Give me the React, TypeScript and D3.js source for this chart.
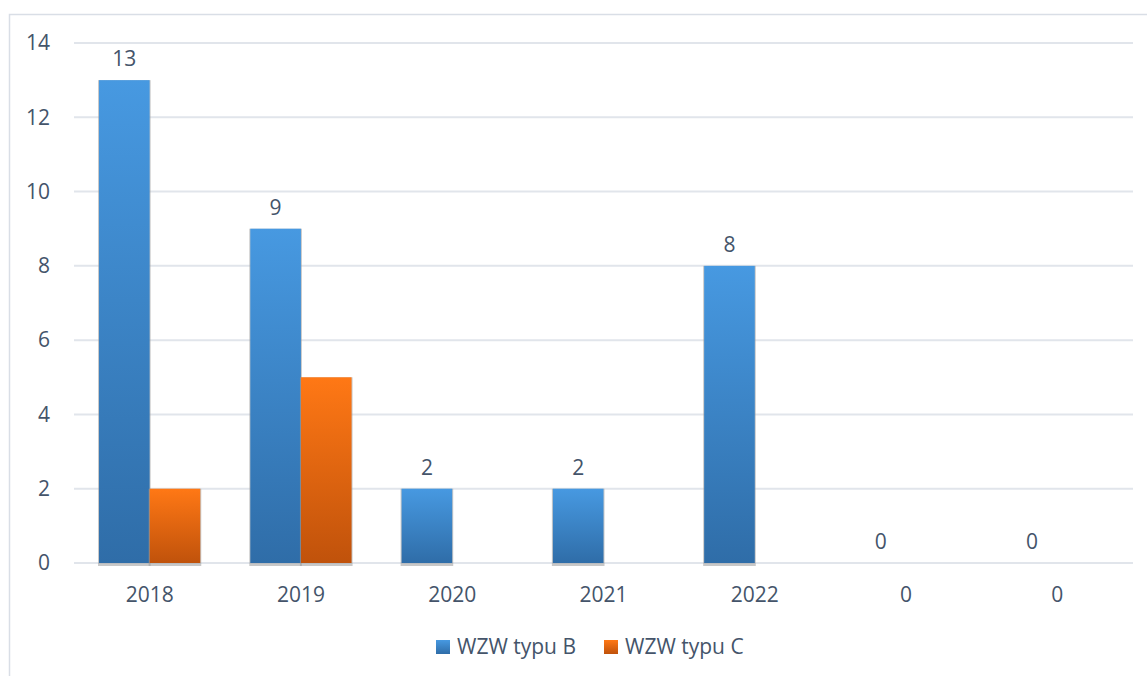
import React from "react";
import * as d3 from "d3";

const categories = ["2018", "2019", "2020", "2021", "2022", "0", "0"];
const seriesB = [13, 9, 2, 2, 8, 0, 0];
const seriesC: (number | null)[] = [2, 5, 0, 0, 0, 0, 0];
const seriesNames = ["WZW typu B", "WZW typu C"];
const yTicks = [0, 2, 4, 6, 8, 10, 12, 14];

const W = 1147;
const H = 676;
const M = { left: 74, right: 1133, top: 43, bottom: 563 };
const FONT = "'Open Sans', sans-serif";
const TEXT = "#44546A";
const FS = 21;

export default function App() {
  const x0 = d3
    .scaleBand<number>()
    .domain(categories.map((_, i) => i))
    .range([M.left, M.right])
    .paddingInner(0)
    .paddingOuter(0);
  const groupPad = 25 / 151.2;
  const x1 = d3
    .scaleBand<number>()
    .domain([0, 1])
    .range([x0.bandwidth() * groupPad, x0.bandwidth() * (1 - groupPad)]);
  const y = d3.scaleLinear().domain([0, 14]).range([M.bottom, M.top]);

  const bars: { s: number; i: number; v: number }[] = [];
  seriesB.forEach((v, i) => bars.push({ s: 0, i, v }));
  seriesC.forEach((v, i) => {
    if (v != null && v > 0) bars.push({ s: 1, i, v });
  });

  return (
    <svg width={W} height={H} style={{ display: "block", position: "absolute", left: 0, top: 0 }}>
      <defs>
        <linearGradient id="gB" x1="0" y1="0" x2="0" y2="1">
          <stop offset="0" stopColor="#4799E1" />
          <stop offset="1" stopColor="#2F6DA8" />
        </linearGradient>
        <linearGradient id="gC" x1="0" y1="0" x2="0" y2="1">
          <stop offset="0" stopColor="#FF7815" />
          <stop offset="1" stopColor="#C0520B" />
        </linearGradient>
      </defs>
      <rect x={0} y={0} width={W} height={H} fill="#fff" />
      <rect x={9.5} y={14.5} width={W + 10} height={H + 10} fill="none" stroke="#D9DEE6" strokeWidth={1.5} />
      {yTicks.map((t) => (
        <g key={t}>
          <line x1={M.left} x2={M.right} y1={y(t)} y2={y(t)} stroke="#E1E5EB" strokeWidth={2} />
          <text x={50} y={y(t)} dy="0.35em" textAnchor="end" fontFamily={FONT} fontSize={FS} fill={TEXT}>
            {t}
          </text>
        </g>
      ))}
      {bars
        .filter((b) => b.v > 0)
        .map((b) => {
          const bx = (x0(b.i) as number) + (x1(b.s) as number);
          const bw = x1.bandwidth();
          const by = y(b.v);
          const bh = y(0) - by;
          return (
            <g key={`${b.s}-${b.i}`}>
              <rect x={bx - 1} y={by} width={bw + 2} height={bh + 3} fill="#9A9A9A" opacity={0.55} />
              <rect x={bx} y={by} width={bw} height={bh} fill={b.s === 0 ? "url(#gB)" : "url(#gC)"} />
            </g>
          );
        })}
      {seriesB.map((v, i) => (
        <text
          key={`lb${i}`}
          x={(x0(i) as number) + (x1(0) as number) + x1.bandwidth() / 2}
          y={y(v) - 21}
          dy="0.35em"
          textAnchor="middle"
          fontFamily={FONT}
          fontSize={FS}
          fill={TEXT}
        >
          {v}
        </text>
      ))}
      {categories.map((c, i) => (
        <text
          key={`c${i}`}
          x={(x0(i) as number) + x0.bandwidth() / 2}
          y={595}
          dy="0.35em"
          textAnchor="middle"
          fontFamily={FONT}
          fontSize={FS}
          fill={TEXT}
        >
          {c}
        </text>
      ))}
      {seriesNames.map((n, k) => {
        const lx = k === 0 ? 436 : 604;
        return (
          <g key={n}>
            <rect x={lx} y={640} width={14} height={14} fill={k === 0 ? "url(#gB)" : "url(#gC)"} />
            <text x={lx + 21} y={647} dy="0.35em" fontFamily={FONT} fontSize={FS} fill={TEXT}>
              {n}
            </text>
          </g>
        );
      })}
    </svg>
  );
}
